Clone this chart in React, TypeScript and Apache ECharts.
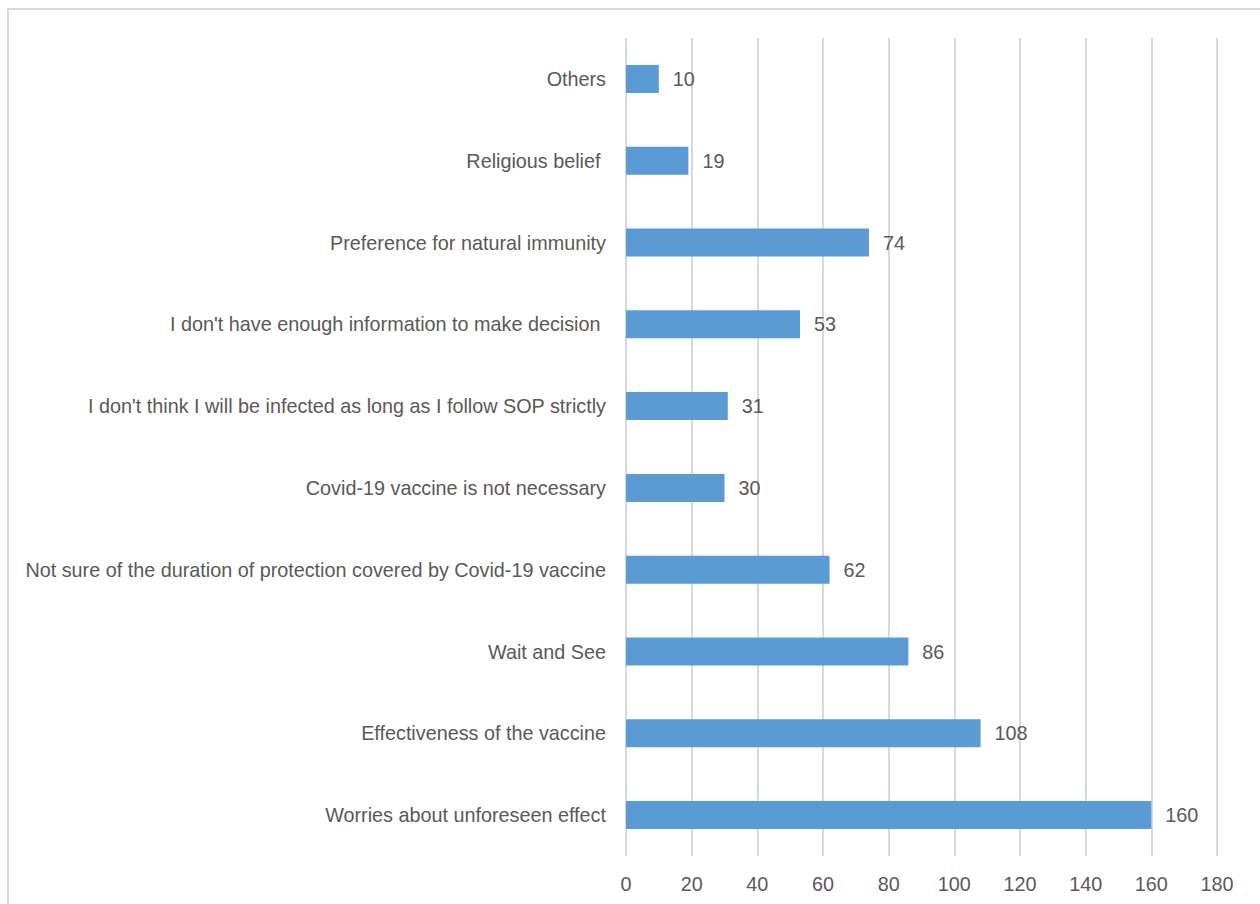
import React, { useEffect, useRef } from "react";
import * as echarts from "echarts";

const categories = [
  "Others",
  "Religious belief ",
  "Preference for natural immunity",
  "I don't have enough information to make decision ",
  "I don't think I will be infected as long as I follow SOP strictly",
  "Covid-19 vaccine is not necessary",
  "Not sure of the duration of protection covered by Covid-19 vaccine",
  "Wait and See",
  "Effectiveness of the vaccine",
  "Worries about unforeseen effect",
];
const values = [10, 19, 74, 53, 31, 30, 62, 86, 108, 160];

const FONT = "'Liberation Sans', Arial, sans-serif";
const FS = 19.8;

export default function App() {
  const ref = useRef<HTMLDivElement>(null);
  useEffect(() => {
    document.body.style.margin = "0";
    const chart = echarts.init(ref.current!, null, { renderer: "svg" });
    chart.setOption({
      animation: false,
      backgroundColor: "#ffffff",
      grid: { left: 626, right: 43, top: 38, bottom: 48, containLabel: false },
      graphic: [
        {
          type: "rect",
          shape: { x: 8, y: 9, width: 1300, height: 1000 },
          style: { fill: "none", stroke: "#d9d9d9", lineWidth: 2 },
          silent: true,
        },
      ],
      xAxis: {
        type: "value",
        min: 0,
        max: 180,
        interval: 20,
        axisLine: { show: false },
        axisTick: { show: false },
        splitLine: { show: true, lineStyle: { color: "#d9d9d9", width: 2 } },
        axisLabel: { color: "#595959", fontSize: FS, fontFamily: FONT, margin: 18 },
      },
      yAxis: {
        type: "category",
        inverse: true,
        data: categories,
        axisLine: { show: false },
        axisTick: { show: false },
        axisLabel: { color: "#595959", fontSize: FS, fontFamily: FONT, margin: 20 },
      },
      series: [
        {
          type: "bar",
          data: values,
          barWidth: 28,
          itemStyle: { color: "#5b9bd5" },
          label: {
            show: true,
            position: "right",
            distance: 14,
            color: "#595959",
            fontSize: FS,
            fontFamily: FONT,
          },
        },
      ],
    });
    return () => chart.dispose();
  }, []);
  return <div ref={ref} style={{ width: 1260, height: 904 }} />;
}
